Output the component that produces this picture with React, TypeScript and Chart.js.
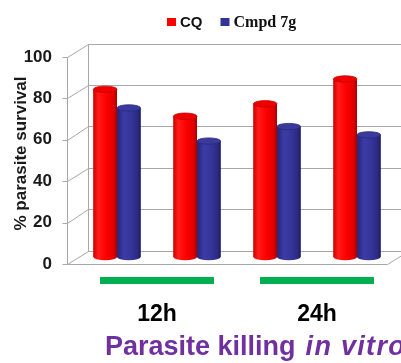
import React, { useEffect, useRef } from 'react';
import { Chart, registerables } from 'chart.js';

Chart.register(...registerables);

// ---- data ----
const categories = ['12h A', '12h B', '24h A', '24h B'];
const groupLabels = ['12h', '24h'];
const seriesNames = ['CQ', 'Cmpd 7g'];
const cqValues = [81, 68, 74, 86];
const cmpdValues = [72, 56, 63, 59];
const yMin = 0;
const yMax = 100;
const yStep = 20;
const yTitle = '% parasite survival';
const chartTitleMain = 'Parasite killing';
const chartTitleItalic = 'in vitro';

// ---- styles ----
const SANS = '"Liberation Sans", Arial, sans-serif';
const SERIF = '"Liberation Serif", "Times New Roman", serif';
const seriesStyles = [
  {
    base: '#FF0000',
    stops: [[0, '#D00000'], [0.2, '#FF1A1A'], [0.55, '#FF0000'], [0.85, '#E00000'], [1, '#A80000']],
    top: '#EE0000',
    topStroke: '#C80000',
    legendFont: `bold 15px ${SANS}`,
  },
  {
    base: '#333399',
    stops: [[0, '#25257A'], [0.3, '#3C3CA6'], [0.65, '#333399'], [0.88, '#2A2A80'], [1, '#1C1C58']],
    top: '#3A3A9C',
    topStroke: '#2A2A7E',
    legendFont: `bold 16px ${SERIF}`,
  },
];
const GRID = '#A8A8A8';
const GREEN = '#00B050';
const PURPLE = '#7030A0';

const FRONT_DX = -10;
const FRONT_DY = 7;
const BACK_DX = 11;
const BACK_DY = -6.5;

const crisp = (v: number) => Math.round(v) + 0.5;

const frame3d = {
  id: 'frame3d',
  beforeDatasetsDraw(chart: any) {
    const { ctx, chartArea } = chart;
    const { left, right } = chartArea;
    const y = chart.scales.y;
    const y0 = y.getPixelForValue(yMin);
    const yTop = y.getPixelForValue(yMax);
    const line = (x1: number, y1: number, x2: number, y2: number) => {
      ctx.beginPath();
      ctx.moveTo(x1, y1);
      ctx.lineTo(x2, y2);
      ctx.stroke();
    };
    ctx.save();
    ctx.strokeStyle = GRID;
    ctx.lineWidth = 1;
    y.ticks.forEach((t: any) => {
      const py = y.getPixelForValue(t.value);
      const bY = crisp(py + BACK_DY);
      const fY = crisp(py + FRONT_DY);
      line(crisp(left + BACK_DX), bY, right + BACK_DX + 30, bY);
      line(crisp(left + FRONT_DX), fY, crisp(left + BACK_DX), bY);
      line(crisp(left + FRONT_DX) - 5, fY, crisp(left + FRONT_DX), fY);
    });
    line(crisp(left + BACK_DX), crisp(yTop + BACK_DY), crisp(left + BACK_DX), crisp(y0 + BACK_DY));
    line(crisp(left + FRONT_DX), crisp(yTop + FRONT_DY), crisp(left + FRONT_DX), crisp(y0 + FRONT_DY));
    line(crisp(left + FRONT_DX), crisp(y0 + FRONT_DY), crisp(right + FRONT_DX), crisp(y0 + FRONT_DY));
    line(crisp(right + FRONT_DX), crisp(y0 + FRONT_DY), crisp(right + BACK_DX), crisp(y0 + BACK_DY));
    ctx.restore();
  },
};

const cylinders = {
  id: 'cylinders',
  afterDatasetsDraw(chart: any) {
    const { ctx } = chart;
    chart.data.datasets.forEach((_ds: any, di: number) => {
      const meta = chart.getDatasetMeta(di);
      const st = seriesStyles[di];
      meta.data.forEach((el: any) => {
        const { x, y, width, base } = el.getProps(['x', 'y', 'width', 'base'], true);
        const hw = width / 2;
        const ry = 3.2;
        const g = ctx.createLinearGradient(x - hw, 0, x + hw, 0);
        st.stops.forEach(([o, c]: any) => g.addColorStop(o, c));
        ctx.save();
        ctx.fillStyle = g;
        ctx.beginPath();
        ctx.moveTo(x - hw, y);
        ctx.lineTo(x - hw, base);
        ctx.ellipse(x, base, hw, ry, 0, Math.PI, 0, true);
        ctx.lineTo(x + hw, y);
        ctx.closePath();
        ctx.fill();
        ctx.beginPath();
        ctx.ellipse(x, y, hw, ry, 0, 0, Math.PI * 2);
        ctx.fillStyle = st.top;
        ctx.fill();
        ctx.strokeStyle = st.topStroke;
        ctx.lineWidth = 0.8;
        ctx.stroke();
        ctx.restore();
      });
    });
  },
};

const extras = {
  id: 'extras',
  afterDraw(chart: any) {
    const { ctx } = chart;
    const x2 = chart.scales.x2;
    ctx.save();
    // green group bars
    ctx.fillStyle = GREEN;
    groupLabels.forEach((_l, i) => {
      const cx = x2.getPixelForTick(i);
      ctx.fillRect(cx - 57, 277, 114, 7);
    });
    // custom legend (mixed fonts)
    let lx = 167;
    chart.data.datasets.forEach((ds: any, di: number) => {
      const st = seriesStyles[di];
      ctx.fillStyle = ds.backgroundColor;
      ctx.fillRect(lx, 18, 9, 8);
      lx += 13;
      ctx.font = st.legendFont;
      ctx.fillStyle = '#111';
      ctx.textBaseline = 'alphabetic';
      ctx.textAlign = 'left';
      ctx.fillText(ds.label, lx, 26.5);
      lx += ctx.measureText(ds.label).width + 18;
    });
    // bottom title
    ctx.fillStyle = PURPLE;
    ctx.font = `bold 27px ${SANS}`;
    ctx.fillText(chartTitleMain, 105, 355);
    const w = ctx.measureText(chartTitleMain).width;
    ctx.font = `italic bold 27px ${SANS}`;
    (ctx as any).letterSpacing = '1.3px';
    ctx.fillText(chartTitleItalic, 105 + w + 10, 355);
    ctx.restore();
  },
};

export default function App() {
  const ref = useRef<HTMLCanvasElement | null>(null);
  useEffect(() => {
    if (!ref.current) return;
    const chart = new Chart(ref.current, {
      type: 'bar',
      data: {
        labels: categories,
        datasets: [
          { label: seriesNames[0], data: cqValues, backgroundColor: seriesStyles[0].base },
          { label: seriesNames[1], data: cmpdValues, backgroundColor: seriesStyles[1].base },
        ],
      },
      options: {
        animation: false,
        responsive: false,
        events: [],
        layout: { padding: { top: 50, right: 4, left: 0, bottom: 0 } },
        datasets: { bar: { barPercentage: 1, categoryPercentage: 0.59 } },
        plugins: { legend: { display: false }, tooltip: { enabled: false }, title: { display: false } },
        scales: {
          x: { display: false },
          x2: {
            type: 'category',
            labels: groupLabels,
            position: 'bottom',
            offset: true,
            grid: { display: false, drawTicks: false },
            border: { display: false },
            ticks: { font: { family: SANS, size: 23, weight: 'bold' }, color: '#000', padding: 44 },
            afterFit: (s: any) => { s.height = 106; },
          },
          y: {
            min: yMin,
            max: yMax,
            ticks: {
              stepSize: yStep,
              labelOffset: FRONT_DY,
              padding: 25,
              color: '#1a1a1a',
              font: { family: SANS, size: 17, weight: 'bold' },
            },
            grid: { display: false, drawTicks: false },
            border: { display: false },
            title: {
              display: true,
              text: yTitle,
              color: '#1a1a1a',
              font: { family: SANS, size: 17, weight: 'bold' },
              padding: { top: 11, bottom: 0 },
            },
            afterFit: (s: any) => { s.width = 77; },
          },
        },
      },
      plugins: [frame3d, cylinders, extras],
    });
    return () => chart.destroy();
  }, []);
  return (
    <div style={{ position: 'absolute', left: 0, top: 0, width: 401, height: 363, background: '#fff', overflow: 'hidden' }}>
      <canvas ref={ref} width={401} height={363} />
    </div>
  );
}
